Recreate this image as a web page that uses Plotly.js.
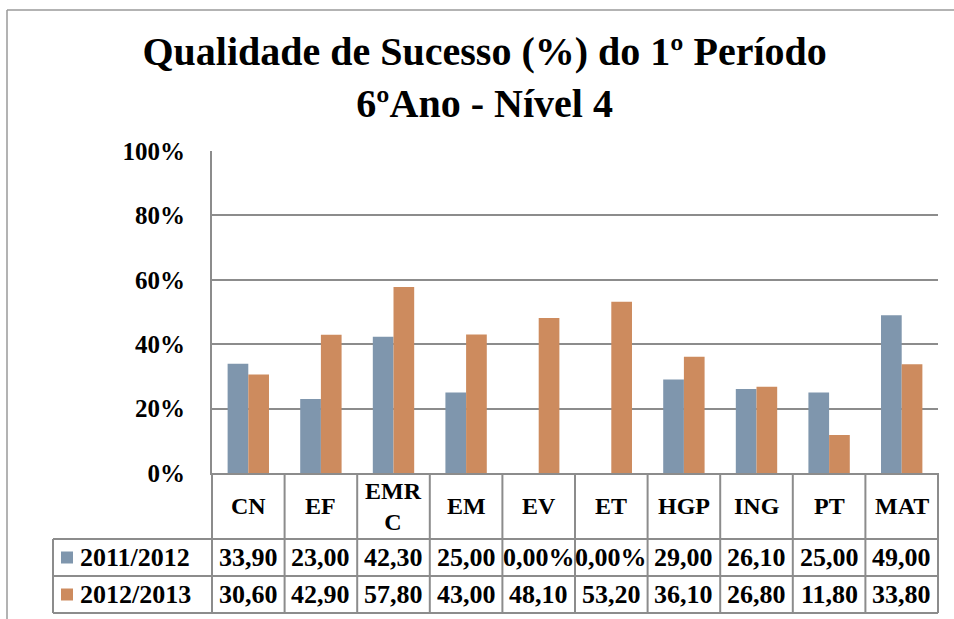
<!DOCTYPE html>
<html>
<head>
<meta charset="utf-8">
<script src="https://cdn.plot.ly/plotly-3.0.1.min.js"></script>
<style>
  html, body { margin: 0; padding: 0; background: #ffffff; }
  #chart { width: 954px; height: 619px; }
</style>
</head>
<body>
<div id="chart"></div>
<script>
// ---- data ----
const categories = ["CN", "EF", "EMRC", "EM", "EV", "ET", "HGP", "ING", "PT", "MAT"];
const headerLabels = ["CN", "EF", "EMR<br>C", "EM", "EV", "ET", "HGP", "ING", "PT", "MAT"];
const seriesNames = ["2011/2012", "2012/2013"];
const values2011 = [33.9, 23.0, 42.3, 25.0, 0, 0, 29.0, 26.1, 25.0, 49.0];
const values2012 = [30.6, 42.9, 57.8, 43.0, 48.1, 53.2, 36.1, 26.8, 11.8, 33.8];
const yTickVals = [0, 20, 40, 60, 80, 100];
const yTickText = ["0%", "20%", "40%", "60%", "80%", "100%"];
const titleText = "Qualidade de Sucesso (%) do 1º Período<br>6ºAno - Nível 4";

// ---- style ----
const colors = ["#7f96ad", "#cd8b5e"];
const gridColor = "#8c8c8c";
const FONT = "Liberation Serif, Times New Roman, serif";

// ---- geometry helpers (pixel -> paper) ----
const W = 954, H = 619;
const M = { l: 212, r: 16, t: 151, b: 146 };
const PW = W - M.l - M.r, PH = H - M.t - M.b;
const px2x = p => (p - M.l) / PW;
const py2y = p => (H - M.b - p) / PH;

// Excel shows the empty 2011/2012 cells with percent format
function fmt(v) {
  if (v === 0) return "0,00%";
  return v.toFixed(2).replace(".", ",");
}

const seriesValues = [values2011, values2012];
const traces = seriesValues.map((vals, i) => ({
  type: "bar",
  name: seriesNames[i],
  x: categories,
  y: vals,
  marker: { color: colors[i], line: { width: 0 } },
  hoverinfo: "x+y+name"
}));

const lineStyle = { color: gridColor, width: 2 };
const shapes = [];
const annotations = [];

// table row geometry (pixels)
const headerTop = 473, row1Top = 539, row2Top = 576, tableBottom = 613;
const tableLeft = 53;
const rowCenters = [(row1Top + row2Top) / 2, (row2Top + tableBottom) / 2];

// vertical dividers of the table (category boundaries)
for (let k = 0; k <= categories.length; k++) {
  shapes.push({ type: "line", xref: "x domain", yref: "paper",
    x0: k / categories.length, x1: k / categories.length,
    y0: py2y(headerTop), y1: py2y(tableBottom), line: lineStyle });
}
// left edge of the legend column
shapes.push({ type: "line", xref: "paper", yref: "paper",
  x0: px2x(tableLeft), x1: px2x(tableLeft), y0: py2y(row1Top), y1: py2y(tableBottom), line: lineStyle });
// horizontal lines
[row1Top, row2Top, tableBottom].forEach(p => {
  shapes.push({ type: "line", xref: "paper", yref: "paper",
    x0: px2x(tableLeft), x1: 1, y0: py2y(p), y1: py2y(p), line: lineStyle });
});
// chart area border (top and left)
shapes.push({ type: "line", xref: "paper", yref: "paper",
  x0: px2x(7), x1: px2x(W), y0: py2y(10), y1: py2y(10), line: { color: "#9a9a9a", width: 1.5 } });
shapes.push({ type: "line", xref: "paper", yref: "paper",
  x0: px2x(7), x1: px2x(7), y0: py2y(10), y1: py2y(H), line: { color: "#9a9a9a", width: 1.5 } });

// header labels
headerLabels.forEach((lab, j) => {
  annotations.push({ xref: "x", yref: "paper", x: categories[j], y: py2y((headerTop + row1Top) / 2),
    text: lab, showarrow: false, xanchor: "center", yanchor: "middle",
    font: { family: FONT, size: 24, color: "#000", weight: 700 } });
});

// series rows: legend key + values
seriesValues.forEach((vals, i) => {
  const cy = rowCenters[i];
  shapes.push({ type: "rect", xref: "paper", yref: "paper",
    x0: px2x(61), x1: px2x(73), y0: py2y(cy + 6), y1: py2y(cy - 6),
    fillcolor: colors[i], line: { width: 0 } });
  annotations.push({ xref: "paper", yref: "paper", x: px2x(78), y: py2y(cy),
    text: seriesNames[i], showarrow: false, xanchor: "left", yanchor: "middle",
    font: { family: FONT, size: 26, color: "#000", weight: 700 } });
  vals.forEach((v, j) => {
    annotations.push({ xref: "x", yref: "paper", x: categories[j], y: py2y(cy),
      text: fmt(v), showarrow: false, xanchor: "center", yanchor: "middle",
      font: { family: FONT, size: 26, color: "#000", weight: 700 } });
  });
});

const layout = {
  width: W, height: H,
  margin: M,
  paper_bgcolor: "#ffffff", plot_bgcolor: "#ffffff",
  showlegend: false,
  barmode: "group",
  bargap: 0.43,
  bargroupgap: 0,
  font: { family: FONT, color: "#000" },
  title: {
    text: titleText,
    x: 0.508, xanchor: "center",
    y: 1 - 65 / H, yanchor: "top",
    font: { family: FONT, size: 40, color: "#000", weight: 700 }
  },
  xaxis: {
    type: "category",
    showticklabels: false,
    ticks: "",
    showgrid: false,
    zeroline: false,
    showline: true, linecolor: gridColor, linewidth: 2
  },
  yaxis: {
    range: [0, 100],
    tickvals: yTickVals, ticktext: yTickText,
    ticks: "", ticklabelstandoff: 20,
    showgrid: true, gridcolor: gridColor, gridwidth: 2,
    zeroline: false,
    showline: true, linecolor: gridColor, linewidth: 2,
    tickfont: { family: FONT, size: 25, color: "#000", weight: 700 }
  },
  shapes: shapes,
  annotations: annotations
};

Plotly.newPlot("chart", traces, layout, { displayModeBar: false, staticPlot: true });
</script>
</body>
</html>
